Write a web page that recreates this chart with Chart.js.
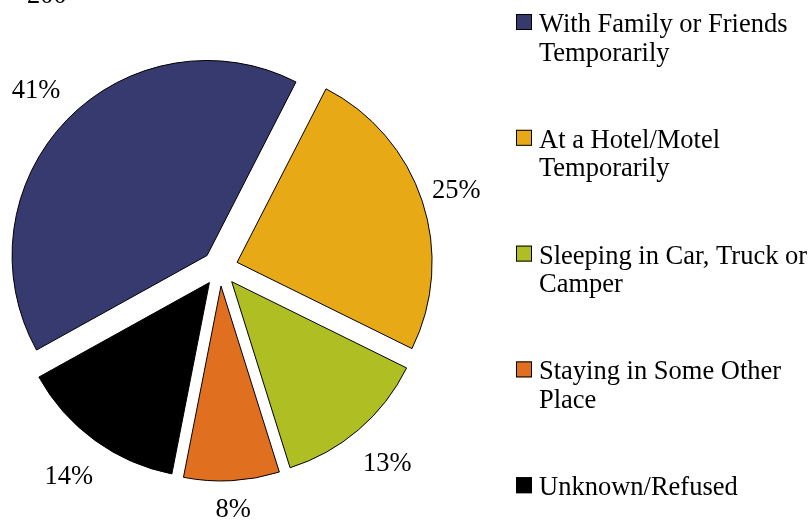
<!DOCTYPE html>
<html>
<head>
<meta charset="utf-8">
<script src="https://cdn.jsdelivr.net/npm/chart.js@4.4.1/dist/chart.umd.min.js"></script>
<style>
  html, body { margin: 0; padding: 0; background: #fff; }
  #wrap { width: 810px; height: 522px; position: relative; }
</style>
</head>
<body>
<div id="wrap"><canvas id="chart" width="810" height="522"></canvas></div>
<script>
// data
const categories = [
  ['With Family or Friends', 'Temporarily'],
  ['At a Hotel/Motel', 'Temporarily'],
  ['Sleeping in Car, Truck or', 'Camper'],
  ['Staying in Some Other', 'Place'],
  ['Unknown/Refused']
];
const shares = [41, 25, 13, 8, 14];
const pctLabels = ['41%', '25%', '13%', '8%', '14%'];
const sliceColors = ['#363a6e', '#e8a917', '#afbe22', '#e07020', '#000000'];
const clippedTitle = '200';

const FONT = '26.5px "Liberation Serif", "Times New Roman", serif';
const EXPLODE = 18; // px each slice is pulled out
// distance of each % label from the pie centre (px)
const labelDist = [256, 249, 257, 241, 257];

// built-in arc offset also grows the radius, so move the slices ourselves
const explode = {
  id: 'explode',
  beforeDatasetDraw(chart, args) {
    args.meta.data.forEach(arc => {
      const mid = (arc.startAngle + arc.endAngle) / 2;
      arc._ox = arc.x; arc._oy = arc.y;
      arc.x += Math.cos(mid) * EXPLODE;
      arc.y += Math.sin(mid) * EXPLODE;
    });
  },
  afterDatasetDraw(chart, args) {
    args.meta.data.forEach(arc => {
      arc.x = arc._ox; arc.y = arc._oy;
    });
  }
};

// percentage labels outside each slice + legend on the right
const labelsAndLegend = {
  id: 'labelsAndLegend',
  afterDraw(chart) {
    const ctx = chart.ctx;
    const meta = chart.getDatasetMeta(0);
    ctx.save();
    ctx.font = FONT;
    ctx.fillStyle = '#000';

    // the bit of title cut off at the top
    ctx.textAlign = 'left';
    ctx.textBaseline = 'alphabetic';
    ctx.fillText(clippedTitle, 27, 3);

    // slice percentages
    ctx.textAlign = 'center';
    ctx.textBaseline = 'middle';
    meta.data.forEach((arc, i) => {
      const mid = (arc.startAngle + arc.endAngle) / 2;
      const r = labelDist[i];
      ctx.fillText(pctLabels[i], arc.x + Math.cos(mid) * r, arc.y + Math.sin(mid) * r + 1);
    });

    // legend
    ctx.textAlign = 'left';
    ctx.textBaseline = 'alphabetic';
    categories.forEach((lines, i) => {
      const top = 14 + i * 115.8;
      ctx.fillStyle = sliceColors[i];
      ctx.fillRect(516, top, 16, 16);
      ctx.strokeStyle = '#000';
      ctx.lineWidth = 1;
      ctx.strokeRect(516.5, top + 0.5, 15, 15);
      ctx.fillStyle = '#000';
      lines.forEach((t, j) => {
        ctx.fillText(t, 539, top + 18 + j * 28.5);
      });
    });
    ctx.restore();
  }
};

new Chart(document.getElementById('chart'), {
  type: 'pie',
  data: {
    labels: categories.map(c => c.join(' ')),
    datasets: [{
      data: shares,
      backgroundColor: sliceColors,
      borderColor: '#000',
      borderWidth: 1
    }]
  },
  options: {
    responsive: false,
    animation: false,
    rotation: -119,
    radius: 195,
    layout: { padding: { left: 0, right: 370, top: 14, bottom: 0 } },
    plugins: {
      legend: { display: false },
      tooltip: { enabled: false }
    }
  },
  plugins: [explode, labelsAndLegend]
});
</script>
</body>
</html>
